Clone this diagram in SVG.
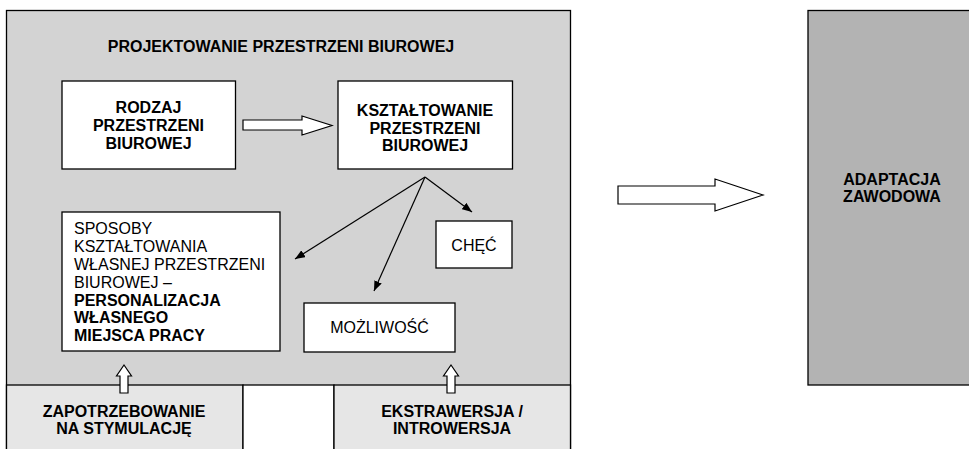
<svg xmlns="http://www.w3.org/2000/svg" width="969" height="449" viewBox="0 0 969 449">
<style>
text{font-family:"Liberation Sans",Arial,sans-serif;font-size:16px;fill:#000}
.b{font-weight:bold}
.c{text-anchor:middle}
.box{fill:#fff;stroke:#000;stroke-width:1.3}
.hollow{fill:#fff;stroke:#000;stroke-width:1.2}
.ln{stroke:#000;stroke-width:1.2;fill:none}
</style>
<defs>
<marker id="ah" markerUnits="userSpaceOnUse" markerWidth="11" markerHeight="8" refX="10" refY="4" orient="auto">
<path d="M0,0 L10,4 L0,8 z" fill="#000"/>
</marker>
</defs>
<rect width="969" height="449" fill="#fff"/>
<g id="outer">
<rect x="6.5" y="10.5" width="564" height="450" fill="#d3d3d3" stroke="#000" stroke-width="1.3"/>
<text class="b c" x="281" y="52">PROJEKTOWANIE PRZESTRZENI BIUROWEJ</text>
</g>
<g id="bottom-left">
<rect x="6.5" y="385" width="236.5" height="70" fill="#e6e6e6" stroke="#000" stroke-width="1.3"/>
<text class="b c" x="124" y="417">ZAPOTRZEBOWANIE</text>
<text class="b c" x="124" y="434">NA STYMULACJĘ</text>
</g>
<g id="bottom-middle">
<rect x="243" y="385" width="91" height="70" fill="#fff" stroke="#000" stroke-width="1.3"/>
</g>
<g id="bottom-right">
<rect x="334" y="385" width="236.5" height="70" fill="#e6e6e6" stroke="#000" stroke-width="1.3"/>
<text class="b c" x="452" y="417">EKSTRAWERSJA /</text>
<text class="b c" x="452" y="434">INTROWERSJA</text>
</g>
<g id="rodzaj">
<rect class="box" x="62" y="81" width="173.5" height="88"/>
<text class="b c" x="148.5" y="113">RODZAJ</text>
<text class="b c" x="148.5" y="131">PRZESTRZENI</text>
<text class="b c" x="148.5" y="149">BIUROWEJ</text>
</g>
<g id="ksztaltowanie">
<rect class="box" x="338" y="81" width="174.5" height="88"/>
<text class="b c" x="425" y="116">KSZTAŁTOWANIE</text>
<text class="b c" x="425" y="134">PRZESTRZENI</text>
<text class="b c" x="425" y="151">BIUROWEJ</text>
</g>
<g id="sposoby">
<rect class="box" x="62" y="212" width="218" height="139"/>
<text x="74" y="234">SPOSOBY</text>
<text x="74" y="252">KSZTAŁTOWANIA</text>
<text x="74" y="270">WŁASNEJ PRZESTRZENI</text>
<text x="74" y="288">BIUROWEJ –</text>
<text class="b" x="74" y="305.5">PERSONALIZACJA</text>
<text class="b" x="74" y="323">WŁASNEGO</text>
<text class="b" x="74" y="341">MIEJSCA PRACY</text>
</g>
<g id="chec">
<rect class="box" x="436" y="221" width="76" height="47"/>
<text class="c" x="474" y="251">CHĘĆ</text>
</g>
<g id="mozliwosc">
<rect class="box" x="304" y="303" width="151" height="49"/>
<text class="c" x="379.5" y="333">MOŻLIWOŚĆ</text>
</g>
<g id="adaptacja">
<rect x="808" y="10.5" width="170" height="374.5" fill="#b3b3b3" stroke="#000" stroke-width="1.3"/>
<text class="b c" x="892" y="185">ADAPTACJA</text>
<text class="b c" x="892" y="202">ZAWODOWA</text>
</g>
<g id="connectors">
<polygon class="hollow" points="243,120 302,120 302,116 332,125.5 302,135 302,130 243,130"/>
<line class="ln" x1="425" y1="177" x2="295" y2="259" marker-end="url(#ah)"/>
<line class="ln" x1="425" y1="177" x2="374" y2="291" marker-end="url(#ah)"/>
<line class="ln" x1="425" y1="177" x2="472" y2="212" marker-end="url(#ah)"/>
<polygon class="hollow" points="124,365 131.5,376 128,376 128,393 120,393 120,376 116.5,376"/>
<polygon class="hollow" points="451,365 458.5,376 455,376 455,393 447,393 447,376 443.5,376"/>
<polygon class="hollow" points="618,186 715,186 715,179 763,195 715,211 715,204 618,204"/>
</g>
</svg>
